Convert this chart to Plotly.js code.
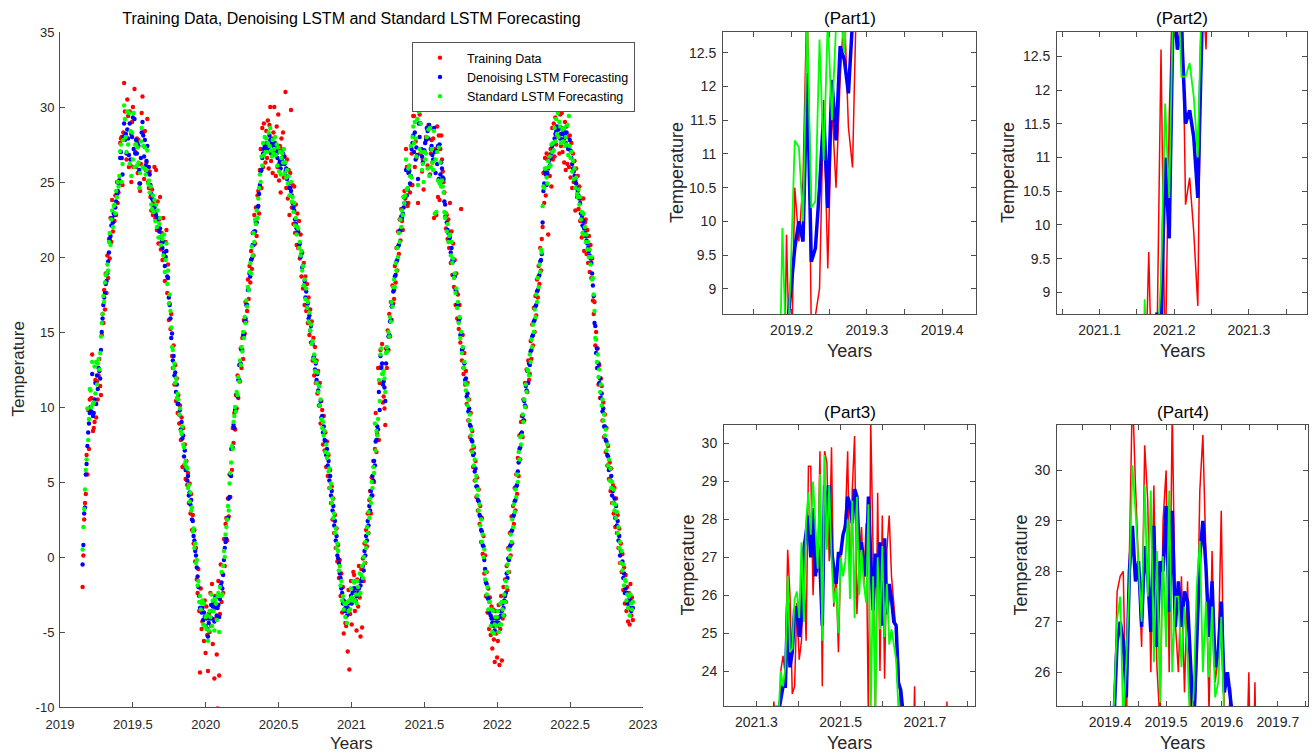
<!DOCTYPE html>
<html><head><meta charset="utf-8">
<script src="https://cdn.plot.ly/plotly-3.0.1.min.js"></script>
<style>html,body{margin:0;padding:0;background:#fff}#chart{width:1315px;height:754px}</style>
</head><body><div id="chart"></div>
<script>
// time grid: first sample (decimal year) and sample spacing (2 days)
const startYear = 2019.155;
const stepYears = 2 / 365;

const trainingData = [
-2.0,0.1,2.5,3.6,4.2,6.8,5.5,9.8,7.2,10.5,
9.7,10.6,13.5,8.4,8.6,9.0,11.8,9.3,11.7,10.5,
12.1,13.2,11.4,10.8,14.8,16.2,15.6,17.8,16.5,18.9,
17.6,20.1,18.6,21.2,19.9,22.6,21.0,23.8,21.7,22.4,
22.4,24.1,22.8,25.0,23.6,24.3,25.1,27.6,27.9,28.0,
24.8,28.3,31.6,29.7,28.2,26.5,30.5,29.4,26.0,29.7,
26.1,25.0,29.0,30.0,26.0,31.2,27.0,26.0,27.9,25.6,
27.8,24.9,24.4,26.2,29.6,30.7,28.3,25.2,28.4,25.8,
26.3,29.2,25.0,24.6,25.7,24.0,23.1,24.5,22.8,23.6,
26.0,22.6,25.8,21.8,23.7,20.9,22.5,24.0,20.5,21.6,
19.8,22.6,20.2,18.4,21.0,21.8,17.6,19.5,15.8,16.9,
15.2,16.2,13.4,12.6,14.1,11.5,12.8,10.4,11.9,9.6,
10.8,8.9,10.1,7.8,9.3,6.0,8.6,6.1,7.5,5.2,
6.4,4.8,5.6,3.6,4.9,2.9,4.2,1.8,2.8,0.9,
1.8,-0.3,0.6,-1.5,-2.4,-0.8,-3.6,-7.7,-2.1,-4.8,
-4.3,-3.0,-5.6,-2.9,-6.4,-3.3,-5.2,-7.6,-3.8,-5.0,
-2.4,-4.6,-1.8,-5.8,-3.2,-8.1,-2.6,-4.1,-6.5,-10.1,
-1.6,-7.9,-3.8,-0.5,-3.0,-1.1,-2.4,1.2,-0.6,2.2,
2.6,1.1,3.9,2.7,5.5,4.0,7.2,5.8,8.6,7.6,
9.6,8.5,10.8,9.9,12.1,10.6,12.8,11.7,13.9,12.6,
14.6,13.2,15.8,14.9,17.0,15.7,16.4,18.5,17.2,19.4,
18.3,20.4,19.2,21.6,20.1,22.8,20.9,23.3,21.4,24.1,
24.4,22.9,25.8,27.2,24.6,28.6,26.0,28.9,27.1,26.3,
28.4,26.6,29.1,25.9,28.8,30.0,26.4,27.9,25.6,28.3,
30.0,27.6,25.4,28.7,26.0,29.5,25.1,27.4,24.3,27.9,
27.2,28.3,25.3,26.7,31.0,24.6,26.5,23.9,25.8,22.8,
25.6,29.8,23.3,24.8,22.2,24.7,21.6,23.5,20.8,22.9,
20.6,22.4,19.9,21.5,18.7,20.3,17.9,19.6,16.8,18.7,
16.4,18.2,15.6,17.3,14.8,16.5,14.3,15.7,13.1,14.6,
12.1,14.0,11.6,13.1,10.9,12.4,10.1,11.6,8.9,10.4,
9.8,7.5,9.4,7.1,8.3,6.0,7.7,5.4,6.8,4.6,
5.8,3.6,4.7,2.5,3.9,1.6,2.8,0.6,1.9,-0.3,
0.8,-1.4,-0.2,-2.6,-1.1,-3.7,-2.0,-5.1,-3.0,-4.4,
-4.6,-3.1,-6.3,-2.2,-7.5,-3.8,-1.6,-4.5,-2.8,-1.0,
-1.2,-3.6,-2.1,-4.9,-1.5,-3.3,-0.6,-2.7,-5.3,-0.8,
-4.7,-0.1,-1.6,0.9,-0.4,1.8,0.7,2.9,1.6,3.8,
4.4,2.9,5.3,4.1,6.4,5.0,7.2,9.6,7.0,8.2,
12.6,7.8,11.6,13.8,12.7,14.2,10.3,10.7,9.9,8.8,
13.9,12.6,15.1,13.8,16.2,14.7,17.0,15.8,18.1,16.9,
17.2,19.4,18.3,20.6,19.1,21.7,20.2,22.5,21.1,23.2,
22.4,21.8,24.0,24.4,23.9,27.2,26.0,23.4,23.6,25.8,
24.3,24.8,26.9,24.8,29.4,29.4,26.0,27.7,26.6,29.8,
23.6,29.8,29.5,26.9,29.9,25.7,26.5,24.5,27.0,27.6,
28.0,29.8,26.1,28.8,30.2,25.5,26.9,27.8,26.3,27.9,
22.6,30.6,27.2,22.8,28.7,24.0,28.1,23.8,27.2,28.1,
26.5,25.7,25.0,24.3,22.7,21.9,22.8,21.2,22.5,20.6,
23.6,19.6,21.7,18.8,20.9,18.0,19.8,16.8,18.9,15.9,
17.5,15.2,16.8,14.3,23.2,13.1,14.8,12.2,13.6,11.5,
12.4,10.2,11.6,9.1,10.5,8.0,9.6,7.1,8.4,6.0,
7.3,5.1,6.4,4.0,5.3,3.1,4.5,2.2,3.4,1.0,
2.6,0.2,1.4,-1.1,0.1,-2.6,-1.0,-3.7,-2.1,-4.8,
-2.7,-5.2,-3.3,-6.1,-3.5,-5.5,-7.0,-3.6,-5.1,-6.7,
-5.6,-3.2,-7.2,-4.8,-2.6,-6.9,-4.1,-2.0,-3.9,-1.5,
-3.0,-0.6,-2.2,0.6,-1.0,1.6,0.1,2.7,0.9,3.4,
2.2,4.6,3.1,5.5,4.2,6.6,5.4,8.1,6.5,9.0,
9.4,8.0,10.5,9.1,11.6,10.0,12.5,11.0,13.1,11.8,
12.2,14.4,13.2,15.5,14.1,16.6,15.0,17.4,16.1,18.5,
17.3,19.4,18.2,20.6,19.1,21.2,22.0,25.6,23.6,26.6,
24.1,26.9,26.5,21.5,26.8,25.4,27.2,24.7,28.6,26.5,
28.9,26.7,29.3,27.5,30.0,28.1,30.2,26.9,29.5,27.4,
29.6,27.0,28.5,26.3,29.0,25.8,28.7,26.2,28.0,26.0,
28.1,25.3,27.6,24.6,26.9,25.0,26.4,23.1,25.9,24.0,
25.4,23.2,24.7,22.4,23.9,21.3,22.8,23.9,20.4,22.3,
22.5,20.2,21.8,19.6,21.4,19.0,20.8,18.6,19.9,17.1,
16.2,17.0,14.1,15.0,12.6,13.9,11.5,12.8,10.6,11.9,
11.4,9.1,10.3,8.0,9.5,7.0,8.6,6.1,7.4,5.2,
6.3,4.4,5.9,3.6,4.8,2.9,4.6,2.0,3.9,1.6,
2.8,0.6,1.9,-0.4,0.9,-1.0,0.2,-2.2,-0.7,-3.1,
-1.2,-3.6,-2.0,-4.3,-2.4,-4.5,-1.8,-3.9,-2.7,-4.2
];

const denoisingLSTM = [
-0.5,0.8,2.9,3.3,5.5,6.2,7.4,8.3,8.9,9.6,
10.0,9.7,12.2,9.4,9.6,10.5,11.6,10.2,12.1,11.2,
12.6,12.4,11.9,13.8,15.0,15.9,16.8,17.3,17.6,18.2,
18.4,18.9,19.7,20.3,21.2,21.4,22.1,22.6,22.3,22.9,
22.8,23.3,23.7,24.2,24.4,24.9,25.1,26.6,27.0,26.6,
25.5,28.0,28.9,27.8,28.2,26.9,28.5,27.9,26.8,28.9,
26.5,28.2,28.0,29.3,27.2,29.2,26.9,27.8,26.9,27.6,
27.4,25.8,24.9,26.6,28.3,29.0,28.1,26.7,27.8,26.1,
26.4,27.4,25.6,26.0,25.5,24.8,24.2,23.9,23.8,23.4,
23.3,23.0,22.8,22.5,22.6,21.9,21.7,21.9,21.3,21.0,
20.6,21.0,20.3,19.4,20.0,20.4,18.7,18.6,17.3,16.8,
15.9,14.6,14.9,13.1,13.4,12.1,12.3,11.0,11.5,10.2,
10.2,9.5,9.8,8.5,9.0,7.9,8.1,6.7,7.1,5.8,
5.9,5.1,5.4,4.1,4.3,3.5,3.8,2.5,2.4,1.4,
1.1,0.4,0.1,-0.7,-1.3,-2.0,-2.6,-3.4,-3.0,-3.7,
-3.4,-4.2,-3.7,-4.0,-4.6,-4.1,-4.8,-5.3,-4.4,-4.1,
-3.6,-3.2,-4.1,-3.3,-3.0,-4.3,-3.4,-2.7,-3.9,-3.4,
-3.2,-4.0,-2.8,-1.9,-1.7,-2.1,-1.2,-0.2,0.6,1.0,
1.2,2.5,2.6,3.9,4.0,5.5,5.4,7.2,7.3,8.8,
8.6,9.8,9.8,10.8,10.7,11.8,11.8,12.8,12.9,13.8,
13.8,14.8,14.8,15.7,15.9,16.8,16.8,17.8,17.8,18.9,
18.7,19.8,19.9,20.8,20.8,21.7,21.7,22.3,22.3,23.3,
23.4,24.2,24.8,25.7,25.8,26.6,26.9,27.2,27.4,27.3,
27.4,27.6,27.1,27.3,28.1,27.8,26.9,27.6,26.8,27.4,
27.6,27.1,27.4,26.9,26.6,27.1,26.2,26.4,25.9,26.2,
26.4,26.9,26.7,26.2,25.7,25.9,25.2,25.4,24.9,24.6,
24.6,24.4,24.1,23.6,23.3,23.1,22.5,22.2,21.9,21.6,
21.7,20.8,20.9,20.0,20.2,19.3,19.4,18.1,18.4,17.3,
17.7,16.6,16.9,15.9,16.1,15.1,15.4,14.3,14.2,13.3,
13.4,12.5,12.9,11.8,12.2,11.1,11.4,10.1,10.4,9.3,
9.4,8.3,8.7,7.8,7.7,6.8,7.2,6.1,6.4,5.1,
5.4,4.1,4.4,3.1,3.4,2.1,2.4,1.1,1.4,0.1,
-0.1,-0.4,-1.1,-1.4,-2.1,-2.4,-3.1,-2.9,-3.6,-3.4,
-3.6,-3.9,-3.4,-3.1,-3.5,-2.9,-2.6,-3.1,-2.4,-2.1,
-2.1,-2.4,-2.9,-2.6,-2.1,-2.4,-2.1,-1.6,-1.9,-1.6,
-1.4,-0.6,-0.9,0.4,0.1,1.4,1.1,2.4,2.1,3.4,
3.1,4.4,4.1,5.4,5.1,6.4,6.1,7.7,7.8,8.7,
8.5,11.0,9.8,13.4,12.6,12.9,11.5,11.7,11.3,10.4,
12.9,13.7,13.8,14.7,14.8,15.7,15.8,16.7,16.8,17.7,
17.8,18.7,18.8,19.7,19.8,20.7,20.8,21.7,21.8,22.7,
22.6,22.9,23.3,23.6,23.6,25.8,24.1,24.5,25.6,25.7,
24.9,25.4,27.2,27.6,28.1,27.0,28.3,26.5,27.3,26.8,
25.2,28.9,28.0,28.9,27.2,26.7,26.3,27.1,27.1,27.6,
27.8,28.6,28.4,27.9,28.8,28.6,27.2,27.4,26.8,26.5,
28.6,27.0,25.6,27.1,26.2,27.4,25.2,27.5,25.5,26.3,
25.9,25.3,25.2,23.7,23.5,22.9,22.3,21.8,21.6,21.1,
21.3,20.3,20.6,19.8,19.7,18.8,18.7,17.8,17.7,16.8,
16.9,15.7,15.9,14.8,14.9,13.8,13.9,12.6,12.9,11.8,
11.9,10.7,10.9,9.7,9.9,8.8,8.7,7.8,7.7,6.8,
6.9,5.7,5.9,4.7,4.7,3.8,3.7,2.8,2.7,1.8,
1.7,0.8,0.7,-0.2,-0.8,-1.7,-1.8,-2.7,-2.8,-3.7,
-3.6,-3.9,-4.1,-4.4,-4.1,-4.6,-4.9,-4.4,-4.1,-4.6,
-4.1,-4.4,-4.0,-3.6,-3.9,-3.6,-3.1,-3.4,-2.9,-2.6,
-2.4,-1.1,-1.4,-0.1,-0.2,0.7,0.8,1.7,1.8,2.7,
2.8,3.7,3.8,4.7,4.8,5.7,6.3,7.2,7.3,8.2,
8.3,9.4,9.1,10.4,10.1,11.4,11.1,12.4,11.6,12.9,
12.8,13.7,13.8,14.7,14.8,15.7,15.8,16.7,16.8,17.7,
17.8,18.7,18.8,19.7,19.8,20.2,22.3,24.4,24.9,25.7,
25.5,24.8,25.6,25.9,26.4,26.1,26.6,26.9,27.4,27.1,
27.6,27.9,28.2,28.4,28.7,29.9,28.5,30.1,27.9,28.2,
28.6,28.2,28.4,27.9,28.1,27.6,28.3,27.4,27.2,30.1,
27.8,27.1,26.6,26.2,25.9,25.7,25.4,25.1,24.9,24.6,
24.4,24.1,23.9,23.6,22.9,22.6,22.1,22.4,21.9,21.6,
21.4,21.1,20.9,20.6,20.4,20.1,19.9,19.6,18.9,18.1,
17.4,15.6,15.4,13.6,13.9,12.6,12.9,11.6,11.9,10.6,
10.9,9.7,9.9,8.7,8.7,7.8,7.7,6.8,6.7,5.8,
5.9,5.1,5.4,4.1,4.4,3.6,3.9,2.6,3.4,2.1,
2.4,1.1,1.4,0.1,0.4,-0.4,-0.3,-1.4,-1.1,-2.4,
-2.1,-2.4,-3.1,-2.9,-3.1,-3.4,-2.9,-3.6,-3.0,-3.4
];

const standardLSTM = [
0.5,2.0,3.2,4.5,5.8,6.5,9.9,7.8,9.2,11.2,
11.1,10.0,13.0,10.2,10.3,12.7,10.9,13.0,11.5,12.9,
13.2,12.5,13.6,14.7,15.6,16.2,17.4,17.0,18.3,18.8,
18.9,19.5,19.1,21.0,21.6,20.8,22.5,23.1,22.0,23.4,
23.5,22.9,24.4,24.0,25.0,24.7,25.4,27.05,27.5,25.0,
26.2,27.8,30.1,29.2,28.0,27.0,29.7,27.5,29.6,26.2,
28.4,25.4,28.3,26.5,29.6,26.0,27.5,27.5,26.1,27.3,
26.3,24.6,25.6,27.7,28.6,26.0,27.4,25.9,27.3,25.5,
25.8,27.1,24.9,25.1,24.3,24.7,23.5,23.2,24.1,23.0,
23.8,22.4,23.5,22.0,23.1,21.3,22.2,22.6,20.8,21.4,
21.2,20.1,21.5,19.0,19.8,20.9,18.2,19.1,16.9,17.5,
16.4,15.3,14.0,13.8,12.6,12.9,11.6,11.9,10.6,10.9,
10.5,9.5,9.9,8.4,8.2,8.7,7.5,7.3,6.2,6.4,
6.0,5.9,4.6,4.8,3.7,4.3,3.1,3.3,1.7,1.9,
0.6,0.9,-0.4,-0.2,-1.9,-1.6,-3.0,-2.6,-3.5,-3.1,
-2.9,-4.5,-3.1,-4.6,-4.0,-4.8,-3.9,-5.6,-4.9,-3.6,
-4.0,-2.5,-4.6,-2.9,-3.6,-4.9,-2.8,-3.1,-4.2,-2.6,
-2.4,-5.0,-2.0,-2.6,-1.0,-2.5,-0.6,0.4,0.0,1.5,
2.0,2.5,3.4,3.1,4.9,5.6,6.3,7.4,7.2,9.0,
9.4,10.0,9.7,11.0,10.8,12.0,11.7,13.1,12.8,14.0,
13.7,15.0,14.6,16.0,15.6,17.1,16.7,18.0,17.8,19.0,
19.6,18.9,20.7,20.1,21.6,21.0,22.5,22.2,23.1,22.6,
23.9,24.6,25.5,25.0,26.7,26.1,27.6,26.8,28.0,27.0,
27.9,27.0,27.6,28.3,27.4,28.6,27.1,26.7,27.8,26.9,
27.2,28.0,26.8,27.5,26.1,27.3,25.7,27.0,25.5,26.6,
26.9,26.3,27.2,25.6,26.3,25.3,25.8,24.9,25.4,24.1,
24.1,25.0,23.7,24.0,23.0,23.6,22.1,22.6,21.5,22.0,
21.9,20.6,21.0,20.1,20.4,19.1,19.4,18.1,18.5,17.2,
17.9,16.6,17.0,15.7,16.3,15.1,15.5,14.2,14.4,13.2,
13.5,12.4,13.0,11.6,12.3,11.0,11.4,10.1,10.5,9.2,
8.6,9.0,8.1,8.4,7.0,7.5,6.6,6.9,5.7,5.9,
4.6,4.9,3.6,3.9,2.6,2.9,1.6,1.9,0.6,0.9,
0.4,-0.9,-0.6,-1.9,-1.6,-2.9,-2.6,-3.5,-3.1,-4.0,
-3.1,-4.4,-3.0,-3.6,-2.9,-3.5,-2.1,-2.7,-2.9,-1.6,
-1.7,-2.9,-2.5,-3.1,-1.6,-2.0,-2.5,-1.1,-2.4,-1.2,
-0.6,-1.4,0.0,-0.4,1.0,0.6,2.0,1.6,3.0,2.6,
3.9,3.6,5.0,4.6,6.0,5.6,8.9,7.1,8.4,8.1,
9.2,11.8,10.4,13.5,13.9,12.2,12.2,12.4,11.9,11.0,
13.6,14.0,13.7,15.0,14.7,16.0,15.7,17.0,16.7,18.0,
18.5,18.0,19.6,19.1,20.6,20.0,21.6,21.0,22.5,22.0,
23.1,22.8,24.0,23.6,24.1,26.5,24.5,24.6,25.9,26.1,
25.4,27.4,25.3,28.0,28.7,27.6,29.0,27.9,26.7,29.2,
24.8,29.7,27.2,28.9,27.0,25.8,26.2,25.0,27.0,26.5,
26.9,28.0,25.9,28.5,25.4,28.6,26.0,27.2,26.3,25.8,
28.4,22.9,26.5,23.0,27.0,25.1,27.3,24.9,26.3,24.7,
25.1,24.7,24.3,23.0,22.6,22.9,21.7,22.2,21.0,21.4,
21.5,20.1,21.0,19.6,19.9,18.6,18.9,17.6,17.9,16.6,
17.0,15.6,16.0,14.6,15.0,13.6,14.0,12.6,13.0,11.6,
11.1,11.5,10.1,10.5,9.1,9.5,8.1,8.5,7.0,7.4,
6.1,6.5,5.1,5.4,4.1,4.5,3.1,3.5,2.1,2.5,
1.0,1.5,0.0,0.5,-1.5,-1.0,-2.5,-2.0,-3.5,-3.0,
-3.0,-4.6,-3.5,-5.0,-3.6,-5.1,-4.5,-4.0,-4.6,-4.0,
-3.6,-5.0,-4.5,-3.1,-4.5,-3.0,-3.5,-3.9,-2.5,-3.0,
-1.6,-2.0,-0.5,-1.0,0.5,0.0,1.5,1.0,2.5,2.0,
3.5,3.0,4.5,4.0,5.5,5.0,7.0,6.5,8.0,7.5,
8.1,9.5,9.0,10.5,10.0,11.5,11.0,12.5,12.4,12.1,
13.5,13.0,14.5,14.0,15.5,15.0,16.5,16.0,17.5,17.0,
18.6,18.0,19.5,19.0,20.5,20.3,23.4,24.7,24.6,25.9,
25.9,25.3,24.9,26.4,26.0,26.7,26.1,27.5,27.0,27.6,
27.1,28.6,27.7,29.2,28.2,29.6,28.0,29.0,28.7,27.6,
29.9,28.5,27.7,28.6,27.4,28.0,27.5,28.8,26.8,29.4,
27.4,26.6,27.0,25.7,26.4,25.2,25.9,24.6,25.3,24.2,
24.0,24.5,23.5,24.0,22.5,23.0,21.6,22.9,21.5,22.0,
21.0,21.5,20.5,21.0,20.0,20.5,19.5,20.0,18.5,18.6,
17.5,16.4,14.6,14.5,13.0,13.5,12.0,12.5,11.0,11.5,
10.1,10.5,9.1,9.5,8.1,8.5,7.1,7.5,6.1,6.5,
5.1,5.9,4.6,5.0,3.6,4.5,3.1,3.5,2.6,3.0,
1.6,2.0,0.6,1.0,-0.4,0.4,-0.9,-0.5,-1.9,-1.5,
-1.6,-2.9,-2.5,-3.4,-2.6,-3.9,-2.5,-3.1,-3.5,-3.0
];

const seriesNames = ['Training Data', 'Denoising LSTM Forecasting', 'Standard LSTM Forecasting'];
const mainXTicks = [2019, 2019.5, 2020, 2020.5, 2021, 2021.5, 2022, 2022.5, 2023];
const mainYTicks = [-10, -5, 0, 5, 10, 15, 20, 25, 30, 35];
const partTitles = ['(Part1)', '(Part2)', '(Part3)', '(Part4)'];
const partXRanges = [[2019.109, 2019.445], [2021.043, 2021.378], [2021.223, 2021.819], [2019.305, 2019.754]];
const partYRanges = [[8.625, 12.81], [8.68, 12.86], [23.08, 30.49], [25.33, 30.9]];
const partXTicks = [[2019.2, 2019.3, 2019.4], [2021.1, 2021.2, 2021.3], [2021.3, 2021.5, 2021.7], [2019.4, 2019.5, 2019.6, 2019.7]];
const partYTicks = [[9, 9.5, 10, 10.5, 11, 11.5, 12, 12.5], [9, 9.5, 10, 10.5, 11, 11.5, 12, 12.5], [24, 25, 26, 27, 28, 29, 30], [26, 27, 28, 29, 30]];

const years = trainingData.map((_, i) => startYear + i * stepYears);
const colors = ['#ff0000', '#0000ff', '#00ff00'];
const seriesData = [trainingData, denoisingLSTM, standardLSTM];
const lineWidths = [1.5, 3.5, 1.8];

const W = 1315, H = 754;
const px = v => v / W, py = v => 1 - v / H;
const FONT = 'Liberation Sans, Arial, Helvetica, sans-serif';
const TXT = '#262626';
const AX = '#4d4d4d';

const traces = [];
seriesData.forEach((d, k) => {
  traces.push({
    type: 'scatter', mode: 'markers', x: years, y: d, name: seriesNames[k],
    xaxis: 'x', yaxis: 'y',
    marker: {color: colors[k], size: 4.4}, showlegend: true, hoverinfo: 'skip'
  });
});
for (let p = 0; p < 4; p++) {
  seriesData.forEach((d, k) => {
    traces.push({
      type: 'scatter', mode: 'lines', x: years, y: d, name: seriesNames[k],
      xaxis: 'x' + (p + 2), yaxis: 'y' + (p + 2),
      line: {color: colors[k], width: lineWidths[k]}, showlegend: false, hoverinfo: 'skip'
    });
  });
}

const partBoxes = [
  {x0: 723, x1: 976, y0: 32, y1: 314},
  {x0: 1057, x1: 1307, y0: 32, y1: 314},
  {x0: 724, x1: 975, y0: 425, y1: 706},
  {x0: 1057, x1: 1308, y0: 425, y1: 706}
];

const layout = {
  width: W, height: H,
  margin: {l: 0, r: 0, t: 0, b: 0},
  paper_bgcolor: '#fff', plot_bgcolor: '#fff',
  font: {family: FONT, color: TXT},
  showlegend: true,
  title: {text: 'Training Data, Denoising LSTM and Standard LSTM Forecasting',
          x: px(351.5), xanchor: 'center', y: py(18), yanchor: 'middle',
          font: {size: 16, color: '#000', family: FONT}},
  legend: {x: px(635), xanchor: 'right', y: py(42), yanchor: 'top',
           bgcolor: '#fff', bordercolor: '#555', borderwidth: 1, itemwidth: 44,
           font: {size: 12.5, color: '#000', family: FONT}, tracegroupgap: 0},
  xaxis: {domain: [px(60), px(643)], anchor: 'y', range: [2019, 2023],
          tickvals: mainXTicks, ticktext: mainXTicks.map(String),
          ticks: 'inside', ticklen: 5, tickcolor: AX, showline: true, linecolor: AX,
          showgrid: false, zeroline: false, automargin: false, ticklabelstandoff: 5,
          tickfont: {size: 13, color: TXT}},
  yaxis: {domain: [py(707), py(32)], anchor: 'x', range: [-10, 35],
          tickvals: mainYTicks, ticktext: mainYTicks.map(String),
          ticks: 'inside', ticklen: 5, tickcolor: AX, showline: true, linecolor: AX,
          showgrid: false, zeroline: false, automargin: false, ticklabelstandoff: 2,
          tickfont: {size: 13, color: TXT}},
  annotations: [
    {text: 'Years', x: px(351.5), y: py(743), xref: 'paper', yref: 'paper', showarrow: false,
     xanchor: 'center', yanchor: 'middle', font: {size: 17, color: TXT}},
    {text: 'Temperature', x: px(18), y: py(369.5), xref: 'paper', yref: 'paper', showarrow: false,
     textangle: -90, xanchor: 'center', yanchor: 'middle', font: {size: 17, color: TXT}}
  ]
};

const ylabX = [677, 1008, 687, 1020];
partBoxes.forEach((b, p) => {
  const n = p + 2;
  const xr = partXRanges[p], yr = partYRanges[p];
  const xt = partXTicks[p], yt = partYTicks[p];
  const minorStep = (xt[1] - xt[0]) / 2;
  layout['xaxis' + n] = {
    domain: [px(b.x0), px(b.x1)], anchor: 'y' + n, range: xr,
    tickvals: xt, ticktext: xt.map(v => v.toFixed(1)),
    ticks: 'inside', ticklen: 5, tickcolor: AX, showline: true, linecolor: AX, mirror: 'ticks',
    minor: {dtick: minorStep, tick0: xt[0], ticks: 'inside', ticklen: 5, tickcolor: AX, showgrid: false},
    showgrid: false, zeroline: false, automargin: false, ticklabelstandoff: 3,
    tickfont: {size: 14, color: TXT}
  };
  layout['yaxis' + n] = {
    domain: [py(b.y1), py(b.y0)], anchor: 'x' + n, range: yr,
    tickvals: yt, ticktext: yt.map(String),
    ticks: 'inside', ticklen: 5, tickcolor: AX, showline: true, linecolor: AX, mirror: 'ticks',
    showgrid: false, zeroline: false, automargin: false, ticklabelstandoff: 3,
    tickfont: {size: 14, color: TXT}
  };
  const cx = (b.x0 + b.x1) / 2;
  layout.annotations.push(
    {text: partTitles[p], x: px(cx), y: py(b.y0 - 13), xref: 'paper', yref: 'paper', showarrow: false,
     xanchor: 'center', yanchor: 'middle', font: {size: 17, color: '#000'}},
    {text: 'Years', x: px(cx), y: py(b.y1 + 37), xref: 'paper', yref: 'paper', showarrow: false,
     xanchor: 'center', yanchor: 'middle', font: {size: 18, color: TXT}},
    {text: 'Temperature', x: px(ylabX[p]), y: py((b.y0 + b.y1) / 2), xref: 'paper', yref: 'paper',
     showarrow: false, textangle: -90, xanchor: 'center', yanchor: 'middle', font: {size: 18, color: TXT}}
  );
});

Plotly.newPlot('chart', traces, layout, {staticPlot: true, displayModeBar: false});
</script>
</body></html>
